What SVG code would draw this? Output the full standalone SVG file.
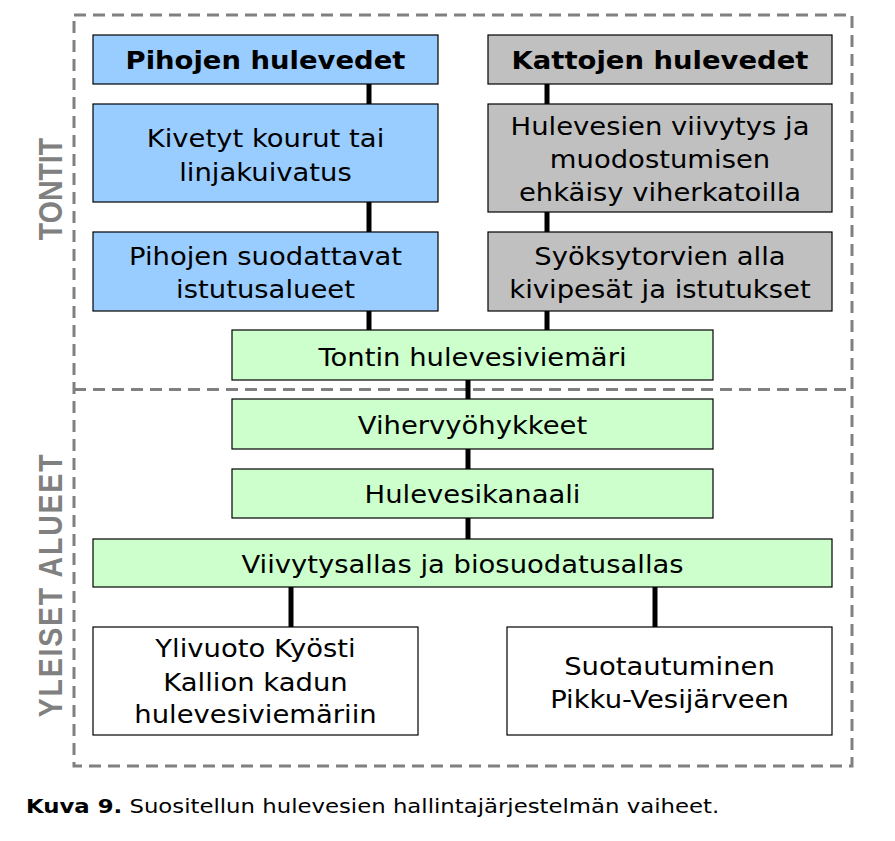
<svg xmlns="http://www.w3.org/2000/svg" width="895" height="841" viewBox="0 0 895 841">
<style>
.frame{fill:none;stroke:#808080;stroke-width:3;stroke-dasharray:12 7}
.box{stroke:#000;stroke-width:1.2}
.blue{fill:#99ccff}
.grey{fill:#c0c0c0}
.green{fill:#ccffcc}
.white{fill:#ffffff}
.t{font-family:"DejaVu Sans",Verdana,sans-serif;font-size:24.5px;fill:#000;text-anchor:middle}
.b{font-weight:bold}
.side{font-family:"Liberation Sans",Arial,sans-serif;font-weight:bold;font-size:28.5px;fill:#808080;text-anchor:middle}
.cap{font-family:"DejaVu Sans",Verdana,sans-serif;font-size:20px;fill:#000}
.conn{stroke:#000;stroke-width:5;fill:none}
</style>
<rect width="895" height="841" fill="#ffffff"/>
<g id="frames">
<rect class="frame" x="74" y="15" width="778" height="751"/>
<line class="frame" x1="74" y1="389.5" x2="852" y2="389.5"/>
</g>
<g id="section-labels">
<text class="side" transform="translate(62,189) rotate(-90) scale(1,1.14)">TONTIT</text>
<text class="side" style="letter-spacing:1.8px" transform="translate(62,585) rotate(-90) scale(1,1.14)">YLEISET ALUEET</text>
</g>
<g id="connectors">
<line class="conn" x1="369" y1="84" x2="369" y2="104"/>
<line class="conn" x1="369" y1="202" x2="369" y2="232"/>
<line class="conn" x1="369" y1="311" x2="369" y2="330"/>
<line class="conn" x1="547" y1="84" x2="547" y2="104"/>
<line class="conn" x1="547" y1="212" x2="547" y2="232"/>
<line class="conn" x1="547" y1="311" x2="547" y2="330"/>
<line class="conn" x1="468" y1="380" x2="468" y2="399"/>
<line class="conn" x1="468" y1="449" x2="468" y2="469"/>
<line class="conn" x1="468" y1="518" x2="468" y2="539"/>
<line class="conn" x1="291" y1="587" x2="291" y2="627"/>
<line class="conn" x1="655" y1="587" x2="655" y2="627"/>
</g>
<g id="pihojen-hulevedet">
<rect class="box blue" x="93" y="35" width="345" height="49"/>
<text class="t b" transform="translate(265.5,69) scale(1.12,1)">Pihojen hulevedet</text>
</g>
<g id="kivetyt-kourut">
<rect class="box blue" x="93" y="104" width="345" height="98"/>
<text class="t" transform="translate(265.5,147) scale(1.12,1)">Kivetyt kourut tai</text>
<text class="t" transform="translate(265.5,181) scale(1.12,1)">linjakuivatus</text>
</g>
<g id="pihojen-suodattavat">
<rect class="box blue" x="93" y="232" width="345" height="79"/>
<text class="t" transform="translate(265.5,265) scale(1.12,1)">Pihojen suodattavat</text>
<text class="t" transform="translate(265.5,298) scale(1.12,1)">istutusalueet</text>
</g>
<g id="kattojen-hulevedet">
<rect class="box grey" x="488" y="35" width="344" height="49"/>
<text class="t b" transform="translate(660,69) scale(1.12,1)">Kattojen hulevedet</text>
</g>
<g id="hulevesien-viivytys">
<rect class="box grey" x="488" y="104" width="344" height="108"/>
<text class="t" transform="translate(660,134.5) scale(1.12,1)">Hulevesien viivytys ja</text>
<text class="t" transform="translate(660,168) scale(1.12,1)">muodostumisen</text>
<text class="t" transform="translate(660,201) scale(1.12,1)">ehkäisy viherkatoilla</text>
</g>
<g id="syoksytorvien">
<rect class="box grey" x="488" y="232" width="344" height="79"/>
<text class="t" transform="translate(660,265) scale(1.12,1)">Syöksytorvien alla</text>
<text class="t" transform="translate(660,298) scale(1.12,1)">kivipesät ja istutukset</text>
</g>
<g id="tontin-hulevesiviemari">
<rect class="box green" x="232" y="330" width="481" height="50"/>
<text class="t" transform="translate(472.5,366) scale(1.12,1)">Tontin hulevesiviemäri</text>
</g>
<g id="vihervyohykkeet">
<rect class="box green" x="232" y="399" width="481" height="50"/>
<text class="t" transform="translate(472.5,434) scale(1.12,1)">Vihervyöhykkeet</text>
</g>
<g id="hulevesikanaali">
<rect class="box green" x="232" y="469" width="481" height="49"/>
<text class="t" transform="translate(472.5,503) scale(1.12,1)">Hulevesikanaali</text>
</g>
<g id="viivytysallas">
<rect class="box green" x="93" y="539" width="739" height="48"/>
<text class="t" transform="translate(462.5,573) scale(1.12,1)">Viivytysallas ja biosuodatusallas</text>
</g>
<g id="ylivuoto">
<rect class="box white" x="93" y="627" width="325" height="108"/>
<text class="t" transform="translate(255.5,657) scale(1.12,1)">Ylivuoto Kyösti</text>
<text class="t" transform="translate(255.5,691) scale(1.12,1)">Kallion kadun</text>
<text class="t" transform="translate(255.5,723) scale(1.12,1)">hulevesiviemäriin</text>
</g>
<g id="suotautuminen">
<rect class="box white" x="507" y="627" width="325" height="108"/>
<text class="t" transform="translate(669.5,675) scale(1.12,1)">Suotautuminen</text>
<text class="t" transform="translate(669.5,708) scale(1.12,1)">Pikku-Vesijärveen</text>
</g>
<g id="caption">
<text class="cap" transform="translate(26,813) scale(1.14,1)"><tspan font-weight="bold">Kuva 9.</tspan> Suositellun hulevesien hallintajärjestelmän vaiheet.</text>
</g>
</svg>
